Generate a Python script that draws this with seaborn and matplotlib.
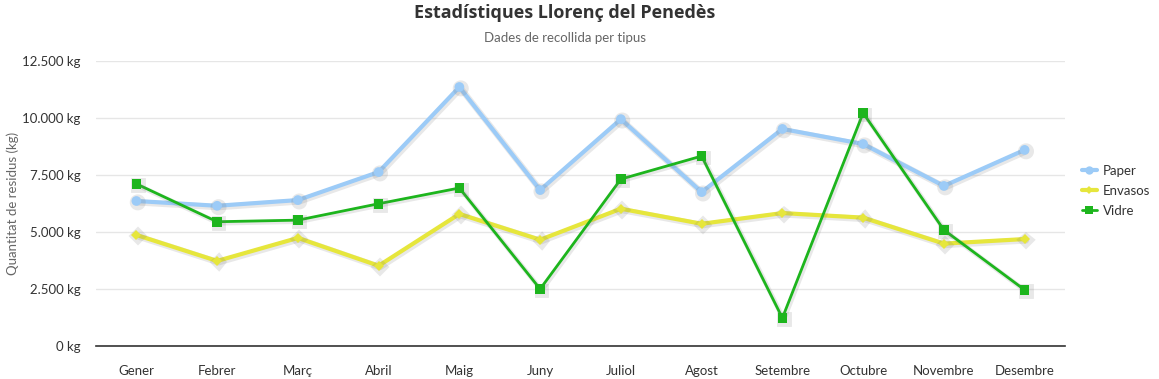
import pandas as pd
import seaborn as sns
import matplotlib.pyplot as plt
import matplotlib.patheffects as pe
from matplotlib.lines import Line2D
from matplotlib.ticker import FuncFormatter

mesos = ["Gener", "Febrer", "Març", "Abril", "Maig", "Juny", "Juliol",
         "Agost", "Setembre", "Octubre", "Novembre", "Desembre"]
paper = [6360, 6150, 6400, 7630, 11360, 6840, 9950, 6750, 9520, 8860, 7020, 8600]
envasos = [4870, 3730, 4740, 3520, 5790, 4660, 6020, 5360, 5830, 5630, 4490, 4690]
vidre = [7110, 5450, 5520, 6240, 6930, 2500, 7320, 8330, 1230, 10220, 5090, 2460]

df = pd.DataFrame({"Mes": mesos * 3,
                   "Quantitat": paper + envasos + vidre,
                   "Tipus": ["Paper"] * 12 + ["Envasos"] * 12 + ["Vidre"] * 12})

sns.set_style("white")
plt.rcParams["font.family"] = ["Lato", "DejaVu Sans"]

colors = {"Paper": "#9ccbf7", "Envasos": "#e6e63c", "Vidre": "#1db51d"}
markers = {"Paper": "o", "Envasos": "D", "Vidre": "s"}
widths = {"Paper": 3, "Envasos": 3, "Vidre": 2}
msizes = {"Paper": 7, "Envasos": 5, "Vidre": 7}

fig = plt.figure(figsize=(11.59, 3.79), dpi=100)
ax = fig.add_axes([96 / 1159, 1 - 346 / 379, (1065 - 96) / 1159, (346 - 61) / 379])

for tipus in ["Paper", "Envasos", "Vidre"]:
    sub = df[df["Tipus"] == tipus]
    sns.lineplot(data=sub, x="Mes", y="Quantitat", ax=ax, sort=False,
                 color=colors[tipus], marker=markers[tipus], markersize=msizes[tipus],
                 markeredgewidth=0, linewidth=widths[tipus], legend=False,
                 path_effects=[pe.SimpleLineShadow(offset=(1, -1), shadow_color="#777777",
                                                   alpha=0.17, linewidth=widths[tipus] + 1.5),
                               pe.Normal()])

ax.set_xlim(-0.5, 11.5)
ax.set_ylim(0, 12500)
ax.set_yticks([0, 2500, 5000, 7500, 10000, 12500])
ax.yaxis.set_major_formatter(FuncFormatter(lambda v, p: f"{int(v):,} kg".replace(",", ".")))
ax.grid(axis="y", color="#e6e6e6", linewidth=1)
ax.set_axisbelow(True)
for s in ["top", "right", "left"]:
    ax.spines[s].set_visible(False)
ax.spines["bottom"].set_color("#333333")
ax.spines["bottom"].set_linewidth(1.2)
ax.tick_params(axis="both", length=0, labelsize=9.5, colors="#333333")
ax.tick_params(axis="x", pad=14)
ax.tick_params(axis="y", pad=11)
ax.set_xlabel("")
ax.set_ylabel("Quantitat de residus (kg)", color="#666666", fontsize=9.5)
ax.yaxis.set_label_coords(-77 / 969, 0.5)

fig.text(0.4875, 0.965, "Estadístiques Llorenç del Penedès", ha="center", va="center",
         fontsize=13, fontweight="bold", color="#333333", family=["Open Sans", "DejaVu Sans"])
fig.text(0.4875, 0.9, "Dades de recollida per tipus", ha="center", va="center",
         fontsize=9.5, color="#666666")

handles = [Line2D([], [], color=colors[t], marker=markers[t], markersize=msizes[t] - 1,
                  markeredgewidth=0, linewidth=widths[t]) for t in ["Paper", "Envasos", "Vidre"]]
leg = ax.legend(handles, ["Paper", "Envasos", "Vidre"], loc="center left",
                bbox_to_anchor=(1.008, 0.545), frameon=False, fontsize=9.5,
                handlelength=1.1, handletextpad=0.5, labelspacing=0.6, borderpad=0.2)
for t in leg.get_texts():
    t.set_color("#333333")

fig.savefig("out.png", dpi=100)
